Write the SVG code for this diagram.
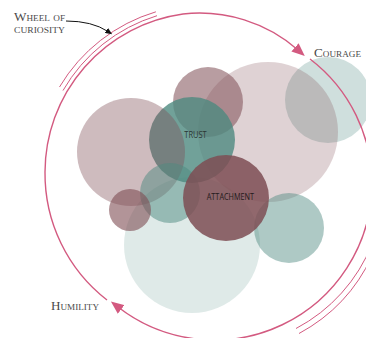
<svg xmlns="http://www.w3.org/2000/svg" width="366" height="338" viewBox="0 0 366 338">
<defs>
<style>
.m{fill:#7e4d53}
.t{fill:#4e8a80}
.wheel{fill:none;stroke:#d35a80;stroke-width:1.4}
.extra{fill:none;stroke:#d35a80;stroke-width:1}
.lbl{font-family:"Liberation Serif",serif;font-variant:small-caps;fill:#4a4a4a;font-size:11.5px}
.in{font-family:"Open Sans","Liberation Sans",sans-serif;font-size:8.3px;text-anchor:middle}
</style>
<marker id="pk" markerUnits="userSpaceOnUse" markerWidth="13" markerHeight="11" refX="4" refY="5.5" orient="auto" viewBox="0 0 13 11">
<path d="M0,0 L13,5.5 L0,11 Z" fill="#d35a80"/>
</marker>
<marker id="bk" markerUnits="userSpaceOnUse" markerWidth="7" markerHeight="6" refX="2" refY="3" orient="auto" viewBox="0 0 7 6">
<path d="M0,0 L7,3 L0,6 Z" fill="#111"/>
</marker>
</defs>
<rect width="366" height="338" fill="#ffffff"/>

<g id="bubbles">
<circle id="pale" class="t" cx="192" cy="245" r="68" opacity="0.18"/>
<circle id="teal-upper-right" class="t" cx="328" cy="100" r="43" opacity="0.27"/>
<circle id="mauve-big" class="m" cx="268" cy="132" r="70" opacity="0.25"/>
<circle id="mauve-top" class="m" cx="208" cy="102" r="35" opacity="0.55"/>
<circle id="trust-circle" class="t" cx="192" cy="140" r="43" opacity="0.8"/>
<circle id="mauve-left" class="m" cx="131" cy="152" r="54" opacity="0.38"/>
<circle id="teal-small" class="t" cx="170" cy="193" r="30" opacity="0.5"/>
<circle id="mauve-small" class="m" cx="130" cy="210" r="21" opacity="0.6"/>
<circle id="teal-bottom-right" class="t" cx="289" cy="228" r="35" opacity="0.46"/>
<circle id="attachment-circle" class="m" cx="226" cy="198" r="43" opacity="0.85"/>
</g>

<g id="trust">
<text class="in" x="195.5" y="138.3" fill="#2c3634" textLength="22.4" lengthAdjust="spacingAndGlyphs">TRUST</text>
</g>
<g id="attachment">
<text class="in" x="230.4" y="200" fill="#241a1c" font-size="8" textLength="47.3" lengthAdjust="spacingAndGlyphs">ATTACHMENT</text>
</g>

<g id="connectors">
<path id="arc-to-courage" class="wheel" d="M107,300 A160,160 0 0 1 45,172 A160,160 0 0 1 183,14 A150,150 0 0 1 298,50" marker-end="url(#pk)"/>
<path id="arc-to-humility" class="wheel" d="M310,59 A157.5,157.5 0 0 1 372,186 A157.5,157.5 0 0 1 118,307" marker-end="url(#pk)"/>
<path class="extra" d="M63,90.5 A164,164 0 0 1 157,15.7"/>
<path class="extra" d="M59.5,87 A168,168 0 0 1 155.9,11.8"/>
<path class="extra" d="M372,244 A164,164 0 0 1 296,328.5"/>
<path class="extra" d="M372,256 A169,169 0 0 1 299,333.5"/>
<path id="pointer" fill="none" stroke="#111" stroke-width="1" d="M66,21 Q92,21 108,31.5" marker-end="url(#bk)"/>
</g>

<g id="wheel-label">
<text class="lbl" x="14" y="21" font-size="10.5" textLength="51" lengthAdjust="spacingAndGlyphs">Wheel of</text>
<text class="lbl" x="14" y="33" font-size="10.5" textLength="51" lengthAdjust="spacingAndGlyphs">curiosity</text>
</g>
<g id="courage">
<text class="lbl" x="314" y="57.3" textLength="47" lengthAdjust="spacingAndGlyphs">Courage</text>
</g>
<g id="humility">
<text class="lbl" x="51" y="310" textLength="48" lengthAdjust="spacingAndGlyphs">Humility</text>
</g>
</svg>
